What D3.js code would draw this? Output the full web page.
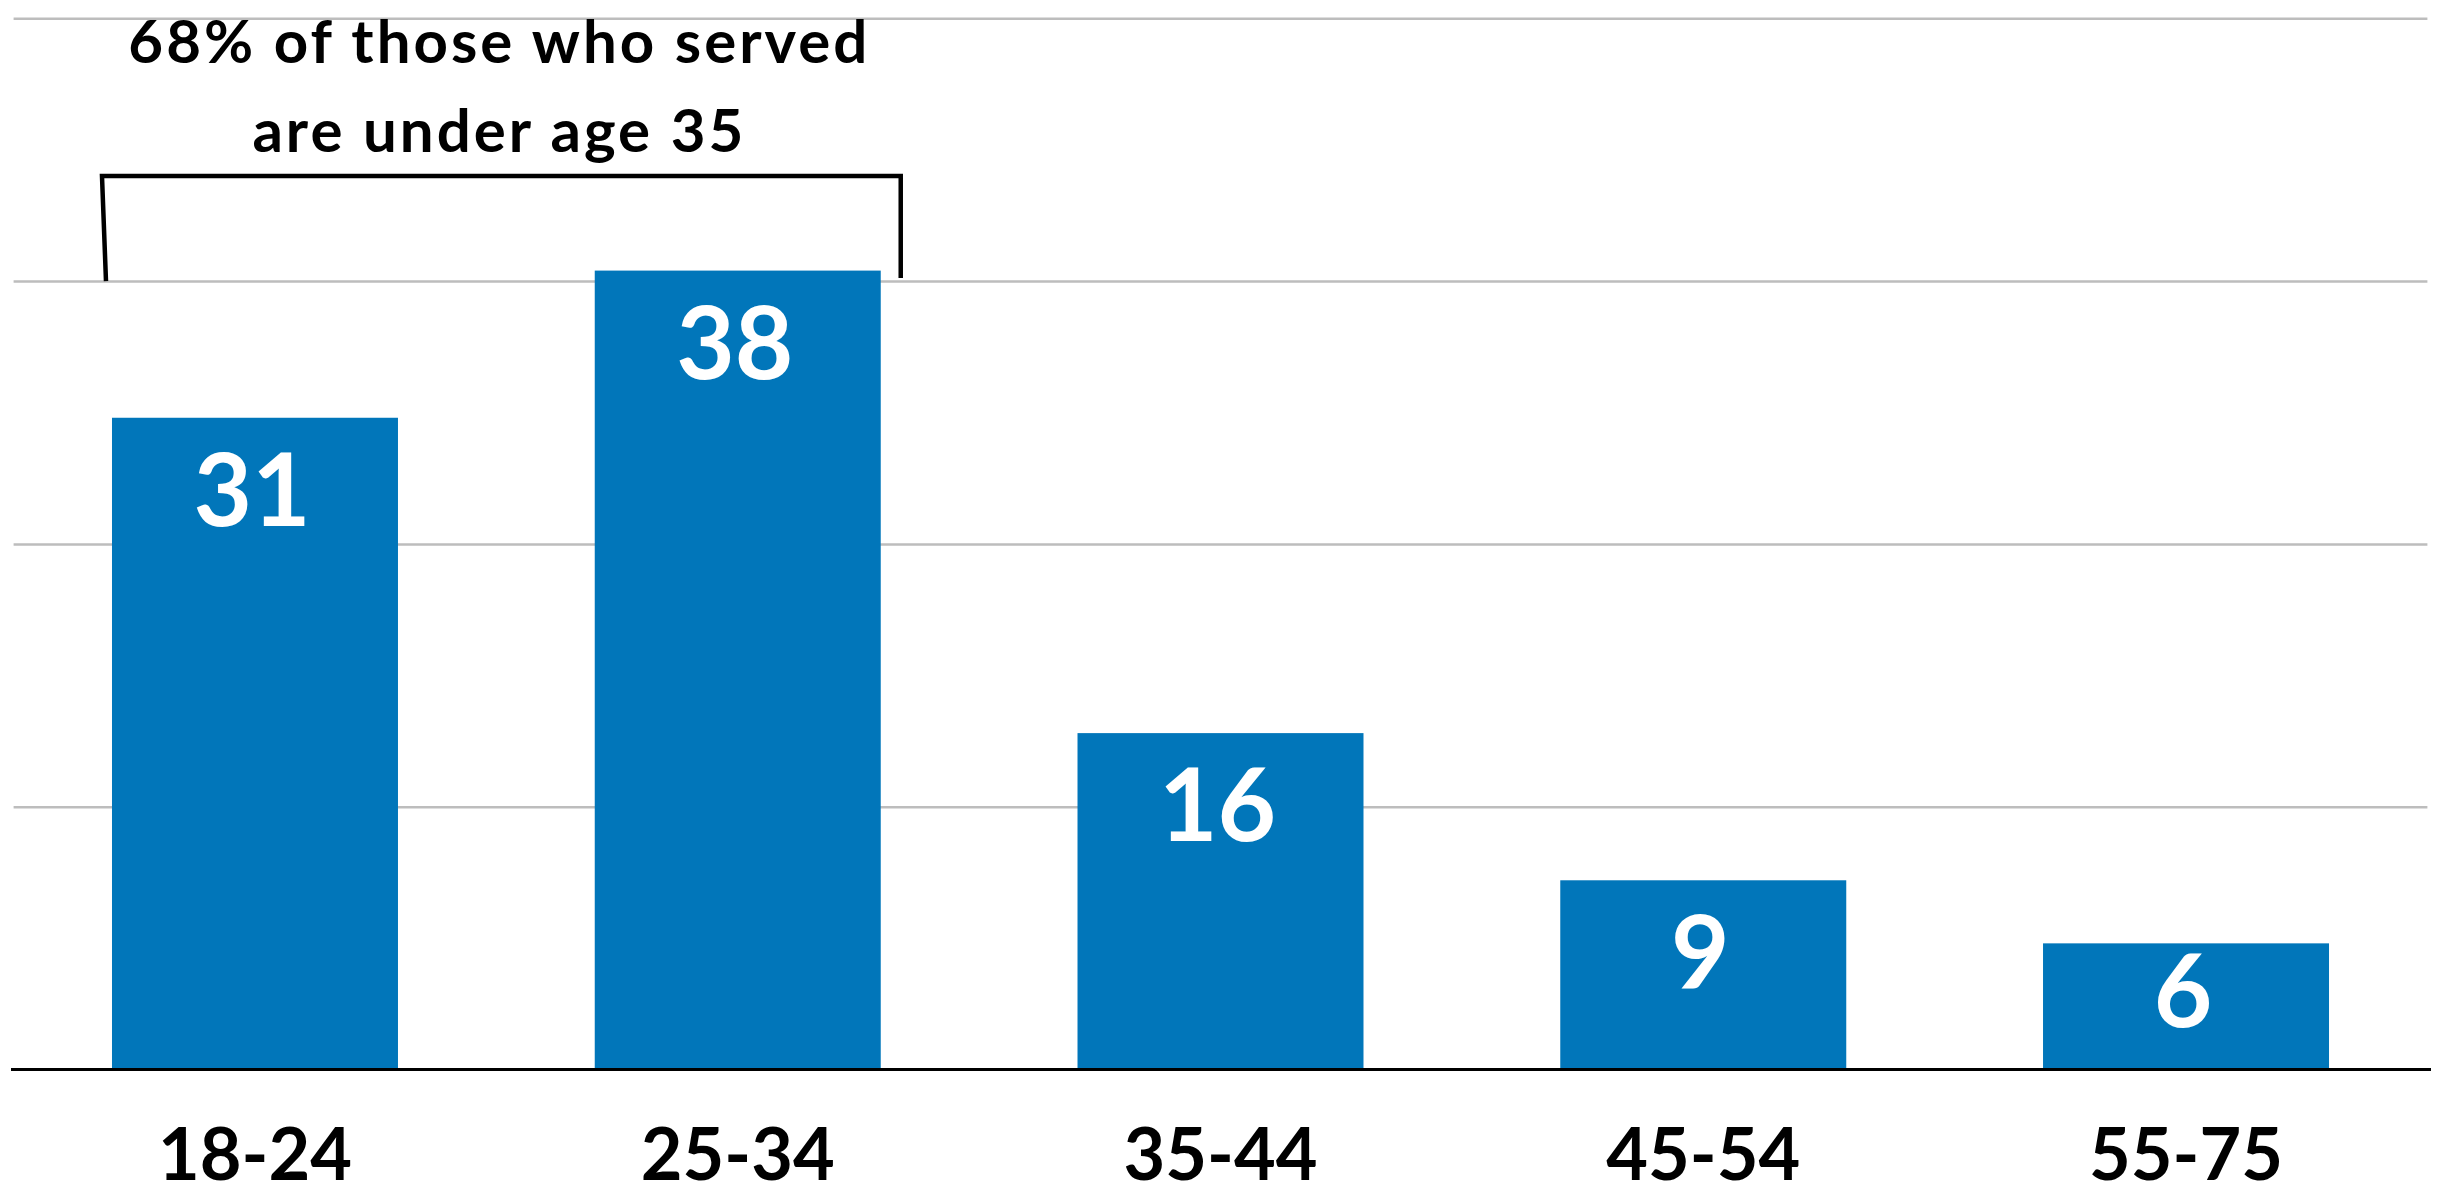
<!DOCTYPE html>
<html>
<head>
<meta charset="utf-8">
<script src="https://cdn.jsdelivr.net/npm/d3@7"></script>
<style>
  html, body { margin: 0; padding: 0; background: #fff; }
  svg { display: block; }
</style>
</head>
<body>
<svg id="chart" width="2438" height="1195"></svg>
<script>
// ---- data ----
const categories = ["18-24", "25-34", "35-44", "45-54", "55-75"];
const values = [31, 38, 16, 9, 6];
const gridTicks = [12.5, 25, 37.5, 50];
const annotationLines = ["68% of those who served", "are under age 35"];
const bracketGroups = ["18-24", "25-34"];
const bracketLevel = 42.5;   // value units for the bracket's top line
const bracketFoot = 37.5;    // value units for bracket feet

// ---- layout ----
const W = 2438, H = 1195;
const x0 = 13.6, x1 = 2427.4;
const yBase = 1069.5, yTop = 18.3;
const blue = "#0176ba";
const font = "Lato, 'Open Sans', 'Noto Sans', sans-serif";

const svg = d3.select("#chart");

const x = d3.scaleBand()
  .domain(categories)
  .range([x0, x1])
  .paddingInner(0.4076)
  .paddingOuter(0.2038);

const y = d3.scaleLinear()
  .domain([0, 50])
  .range([yBase, yTop]);

// gridlines
const grid = svg.append("g")
  .attr("transform", `translate(${x0},0)`)
  .call(d3.axisLeft(y).tickValues(gridTicks).tickSize(-(x1 - x0)).tickFormat(""));
grid.select(".domain").remove();
grid.selectAll(".tick line").attr("stroke", "#bdbdbd").attr("stroke-width", 2.5);

// bars
svg.append("g").selectAll("rect")
  .data(values)
  .join("rect")
  .attr("x", (d, i) => x(categories[i]))
  .attr("y", d => y(d))
  .attr("width", x.bandwidth())
  .attr("height", d => y(0) - y(d))
  .attr("fill", blue);

// value labels
svg.append("g").selectAll("text")
  .data(values)
  .join("text")
  .attr("x", (d, i) => x(categories[i]) + x.bandwidth() / 2 - 3)
  .attr("y", d => Math.min(y(d) + 108, y(0) - 43))
  .attr("text-anchor", "middle")
  .attr("fill", "#fff")
  .style("font-family", font)
  .style("font-weight", 700)
  .style("font-size", "101px")
  .text(d => d);

// baseline
svg.append("line")
  .attr("x1", 11).attr("x2", 2431)
  .attr("y1", y(0)).attr("y2", y(0))
  .attr("stroke", "#000").attr("stroke-width", 3);

// category axis
const xa = svg.append("g")
  .attr("transform", `translate(0,${y(0)})`)
  .call(d3.axisBottom(x).tickSize(0));
xa.select(".domain").remove();
xa.selectAll(".tick text")
  .attr("dy", null)
  .attr("y", 1180 - y(0))
  .attr("fill", "#000")
  .style("font-family", font)
  .style("font-weight", 700)
  .style("font-size", "72px");

// bracket annotation
const bl = x(bracketGroups[0]) - 10;
const br = x(bracketGroups[1]) + x.bandwidth() + 20;
const bTop = y(bracketLevel);
const bFoot = y(bracketFoot);
svg.append("path")
  .attr("d", `M${bl + 4},${bFoot} L${bl},${bTop} L${br},${bTop} L${br},${bFoot - 3}`)
  .attr("fill", "none")
  .attr("stroke", "#000")
  .attr("stroke-width", 4.5);

const cx = (bl + br) / 2 - 2;
svg.append("g").selectAll("text")
  .data(annotationLines)
  .join("text")
  .attr("x", cx)
  .attr("y", (d, i) => 63 + i * 89)
  .attr("text-anchor", "middle")
  .attr("fill", "#000")
  .style("font-family", font)
  .style("font-weight", 700)
  .style("font-size", "60px")
  .style("letter-spacing", "3px")
  .text(d => d);
</script>
</body>
</html>
